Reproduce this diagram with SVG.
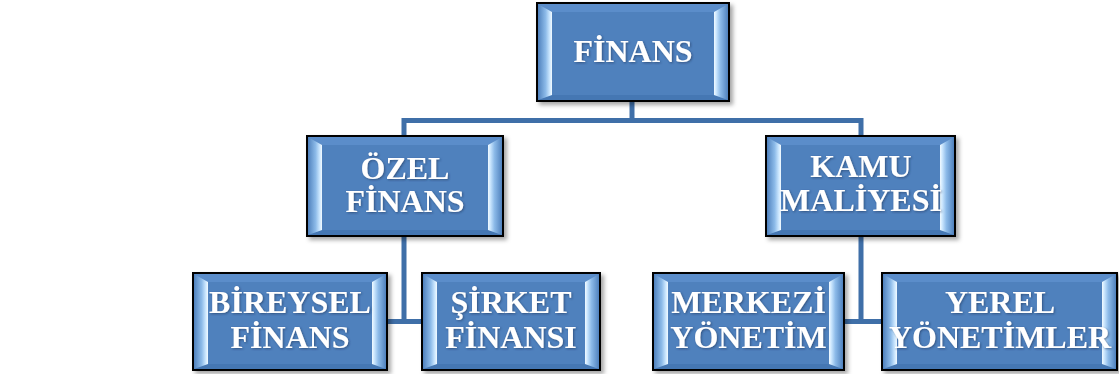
<svg xmlns="http://www.w3.org/2000/svg" width="1119" height="374" viewBox="0 0 1119 374">
<defs>
<linearGradient id="gl" x1="0" y1="0" x2="1" y2="0">
<stop offset="0" stop-color="#4f81bd"/>
<stop offset="0.55" stop-color="#8dbbe9"/>
<stop offset="0.85" stop-color="#cfe9ff"/>
<stop offset="1" stop-color="#f2faff"/>
</linearGradient>
<linearGradient id="gr" x1="0" y1="0" x2="1" y2="0">
<stop offset="0" stop-color="#f2faff"/>
<stop offset="0.15" stop-color="#cfe9ff"/>
<stop offset="0.45" stop-color="#8dbbe9"/>
<stop offset="1" stop-color="#4f81bd"/>
</linearGradient>
<filter id="sh" x="-10%" y="-10%" width="125%" height="130%">
<feDropShadow dx="3" dy="3" stdDeviation="2" flood-color="#000" flood-opacity="0.35"/>
</filter>
<filter id="ts" x="-5%" y="-20%" width="110%" height="140%">
<feDropShadow dx="1" dy="1" stdDeviation="0.8" flood-color="#1d3558" flood-opacity="0.6"/>
</filter>
</defs>
<style>
.box{fill:#4f81bd;stroke:#000;stroke-width:2}
.bl{fill:url(#gl)}
.br{fill:url(#gr)}
.bt{fill:#5b8dca}
.bb{fill:#4577b3}
.t{font-family:"Liberation Serif","Times New Roman",serif;font-weight:bold;font-size:32px;fill:#fff;text-anchor:middle}
.c{fill:none;stroke:#3f6fa8;stroke-width:5}
</style>
<g id="connectors">
<path class="c" d="M632,101 V120.5"/>
<path class="c" d="M404,136 V120.5 H861 V136"/>
<path class="c" d="M404,236 V321.5 M387,321.5 H422"/>
<path class="c" d="M861,236 V321.5 M844,321.5 H882"/>
</g>
<g id="n-finans">
<g filter="url(#sh)">
<rect class="box" x="537" y="3" width="192" height="98"/>
</g>
<polygon class="bt" points="538,4 728,4 714,12 552,12"/>
<polygon class="bb" points="538,100 728,100 714,95 552,95"/>
<polygon class="bl" points="538,4 552,12 552,95 538,100"/>
<polygon class="br" points="714,12 728,4 728,100 714,95"/>
<text class="t" x="633" y="62" filter="url(#ts)">FİNANS</text>
</g>
<g id="n-ozel">
<g filter="url(#sh)">
<rect class="box" x="307" y="136" width="196" height="100"/>
</g>
<polygon class="bt" points="308,137 502,137 488,145 322,145"/>
<polygon class="bb" points="308,235 502,235 488,230 322,230"/>
<polygon class="bl" points="308,137 322,145 322,230 308,235"/>
<polygon class="br" points="488,145 502,137 502,235 488,230"/>
<text class="t" x="405" y="179" filter="url(#ts)">ÖZEL</text>
<text class="t" x="405" y="212" filter="url(#ts)">FİNANS</text>
</g>
<g id="n-kamu">
<g filter="url(#sh)">
<rect class="box" x="766" y="136" width="189" height="100"/>
</g>
<polygon class="bt" points="767,137 954,137 940,145 781,145"/>
<polygon class="bb" points="767,235 954,235 940,230 781,230"/>
<polygon class="bl" points="767,137 781,145 781,230 767,235"/>
<polygon class="br" points="940,145 954,137 954,235 940,230"/>
<text class="t" x="861" y="177" filter="url(#ts)">KAMU</text>
<text class="t" x="861" y="211" filter="url(#ts)">MALİYESİ</text>
</g>
<g id="n-bireysel">
<g filter="url(#sh)">
<rect class="box" x="193" y="273" width="194" height="97"/>
</g>
<polygon class="bt" points="194,274 386,274 372,282 208,282"/>
<polygon class="bb" points="194,369 386,369 372,364 208,364"/>
<polygon class="bl" points="194,274 208,282 208,364 194,369"/>
<polygon class="br" points="372,282 386,274 386,369 372,364"/>
<text class="t" x="290" y="313" filter="url(#ts)">BİREYSEL</text>
<text class="t" x="290" y="348" filter="url(#ts)">FİNANS</text>
</g>
<g id="n-sirket">
<g filter="url(#sh)">
<rect class="box" x="422" y="273" width="178" height="97"/>
</g>
<polygon class="bt" points="423,274 599,274 585,282 437,282"/>
<polygon class="bb" points="423,369 599,369 585,364 437,364"/>
<polygon class="bl" points="423,274 437,282 437,364 423,369"/>
<polygon class="br" points="585,282 599,274 599,369 585,364"/>
<text class="t" x="511" y="313" filter="url(#ts)">ŞİRKET</text>
<text class="t" x="511" y="348" filter="url(#ts)">FİNANSI</text>
</g>
<g id="n-merkezi">
<g filter="url(#sh)">
<rect class="box" x="653" y="273" width="191" height="97"/>
</g>
<polygon class="bt" points="654,274 843,274 829,282 668,282"/>
<polygon class="bb" points="654,369 843,369 829,364 668,364"/>
<polygon class="bl" points="654,274 668,282 668,364 654,369"/>
<polygon class="br" points="829,282 843,274 843,369 829,364"/>
<text class="t" x="748.5" y="313" filter="url(#ts)">MERKEZİ</text>
<text class="t" x="748.5" y="348" filter="url(#ts)">YÖNETİM</text>
</g>
<g id="n-yerel">
<g filter="url(#sh)">
<rect class="box" x="882" y="273" width="235" height="97"/>
</g>
<polygon class="bt" points="883,274 1116,274 1102,282 897,282"/>
<polygon class="bb" points="883,369 1116,369 1102,364 897,364"/>
<polygon class="bl" points="883,274 897,282 897,364 883,369"/>
<polygon class="br" points="1102,282 1116,274 1116,369 1102,364"/>
<text class="t" x="1000" y="313" filter="url(#ts)">YEREL</text>
<text class="t" x="1000" y="348" filter="url(#ts)">YÖNETİMLER</text>
</g>
</svg>
